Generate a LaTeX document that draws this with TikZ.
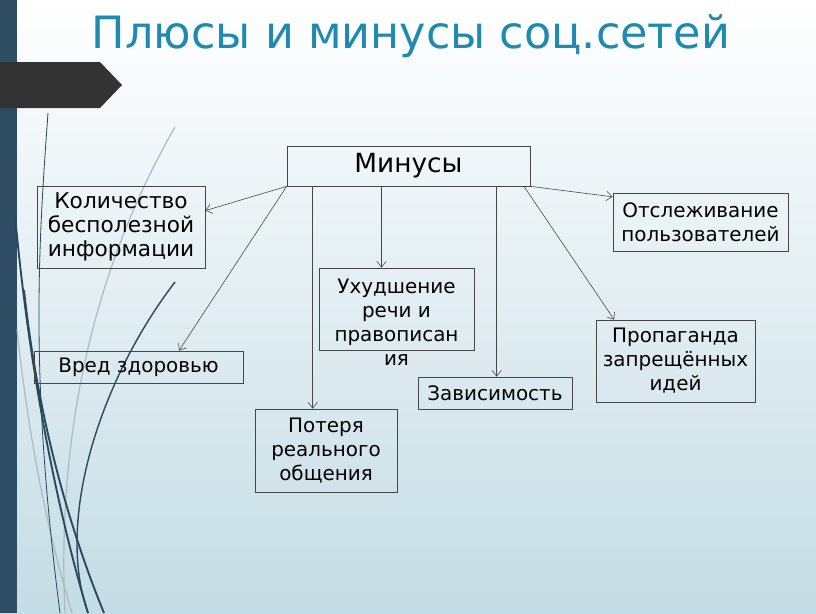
\documentclass[tikz,border=0pt]{standalone}
\usepackage{fontspec}
\setmainfont{DejaVu Sans}
\usetikzlibrary{arrows.meta}
\definecolor{barblue}{RGB}{44,77,100}
\definecolor{titleblue}{RGB}{31,137,176}
\definecolor{bgblue}{RGB}{196,220,229}
\definecolor{curvedark}{RGB}{42,72,94}
\definecolor{curvelight}{RGB}{170,185,194}
\definecolor{linegray}{RGB}{70,70,70}

\begin{document}
\begin{tikzpicture}[x=0.03cm,y=-0.03cm,
	box/.style={draw=linegray, line width=0.6pt, align=center, inner sep=0pt, font=\fontsize{17}{20.5}\selectfont},
	arr/.style={draw=linegray, line width=0.5pt, -{Straight Barb[length=5pt,width=8pt]}}]
	\useasboundingbox (0,0) rectangle (816,613);
	% background
	\shade[top color=white, middle color=bgblue!40!white, bottom color=bgblue] (0,0) rectangle (816,613);
	\fill[barblue] (0,0) rectangle (17,613);
	\fill[black!80] (0,62) -- (100,62) -- (122,85) -- (100,108) -- (0,108) -- cycle;
	% curves on the left
	\draw[curvelight, line width=1pt] (175,127) .. controls (110,240) and (55,400) .. (65,613);
	\draw[curvelight, line width=1pt] (17,330) .. controls (30,450) and (50,540) .. (72,613);
	\draw[curvedark, line width=0.7pt] (48,113) .. controls (38,250) and (30,380) .. (60,613);
	\draw[curvedark, line width=1.6pt] (15,215) .. controls (30,380) and (60,520) .. (88,613);
	\draw[curvedark, line width=1.6pt] (24,290) .. controls (38,420) and (70,530) .. (104,613);
	\draw[curvedark, line width=1.2pt] (175,282) .. controls (100,380) and (55,520) .. (88,613);

	\node[font=\fontsize{38}{40}\selectfont, text=titleblue] (title) at (411,36) {Плюсы и минусы соц.сетей};

	\node[box, minimum width=7.29cm, minimum height=1.2cm, font=\fontsize{22.5}{24}\selectfont] (minus) at (408.5,166) {Минусы};
	\node[box, minimum width=5.04cm, minimum height=2.46cm, font=\fontsize{18.5}{20.5}\selectfont] (kol) at (121,227) {Количество\\бесполезной\\информации};
	\node[box, minimum width=5.25cm, minimum height=1.74cm] (otsl) at (700.5,222) {Отслеживание\\пользователей};
	\node[box, minimum width=6.27cm, minimum height=0.96cm] (vred) at (138.5,367) {Вред здоровью};
	\node[box, minimum width=4.65cm, minimum height=2.46cm] (ukh) at (396.5,309) {};
	\node[box, draw=none] (ukhtext) at (396.5,322) {Ухудшение\\речи и\\правописан\\ия};
	\node[box, minimum width=4.62cm, minimum height=0.96cm] (zav) at (495,393) {Зависимость};
	\node[box, minimum width=4.26cm, minimum height=2.49cm] (pot) at (326,450.5) {Потеря\\реального\\общения};
	\node[box, minimum width=4.77cm, minimum height=2.46cm] (prop) at (675.5,361) {Пропаганда\\запрещённых\\идей};

	\draw[arr] (minus.south west) -- (kol.11);
	\draw[arr] (minus.south west) -- (vred.22);
	\draw[arr] (minus.192) -- (minus.192 |- pot.north);
	\draw[arr] (minus.217) -- (minus.217 |- ukh.north);
	\draw[arr] (minus.347) -- (minus.347 |- zav.north);
	\draw[arr] (minus.350) -- (prop.146);
	\draw[arr] (minus.south east) -- (otsl.164);
\end{tikzpicture}
\end{document}
